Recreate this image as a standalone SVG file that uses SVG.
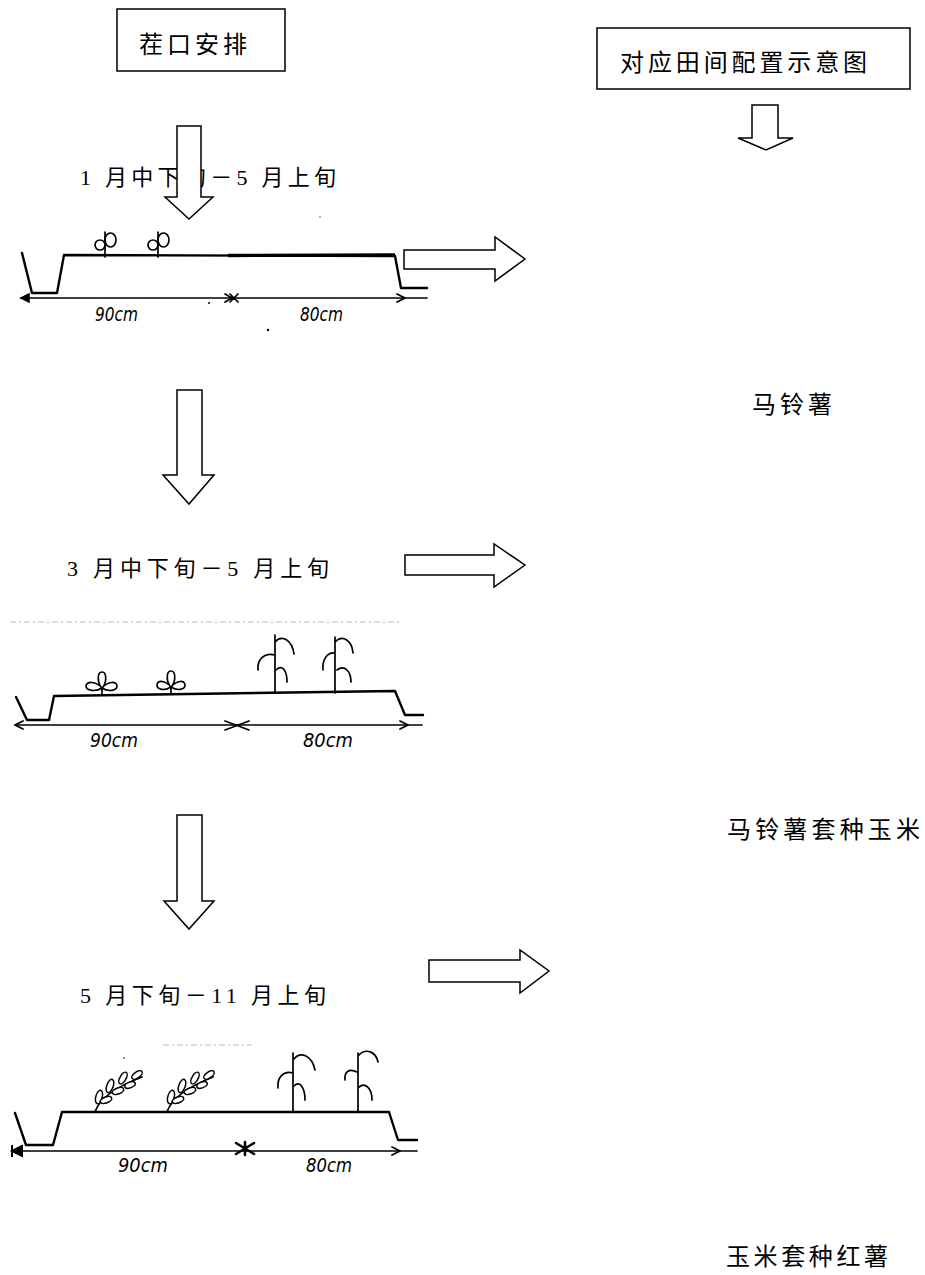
<svg xmlns="http://www.w3.org/2000/svg" width="925" height="1275" viewBox="0 0 925 1275">
<style>
.t{font-family:"Liberation Serif","Noto Sans CJK SC",serif;fill:#000}
.hw{font-family:"DejaVu Sans","Liberation Sans",sans-serif;font-style:italic;font-size:20px;fill:#000}
.box{fill:#fff;stroke:#000;stroke-width:1.5}
.arr{fill:#fff;stroke:#000;stroke-width:1.5;stroke-linejoin:miter}
.ink{fill:none;stroke:#000;stroke-width:2.4;stroke-linecap:round;stroke-linejoin:round}
.thin{fill:none;stroke:#000;stroke-width:1.7;stroke-linecap:round;stroke-linejoin:round}
.leaf{fill:#fff;stroke:#000;stroke-width:1.5}
.faint{fill:none;stroke:#bbb;stroke-width:1.2;stroke-dasharray:6 3 2 3}
</style>
<rect width="925" height="1275" fill="#fff"/>

<g id="box-left">
<rect class="box" x="117" y="9" width="168" height="62"/>
<text class="t" x="139" y="53" font-size="24" textLength="108" lengthAdjust="spacing">茬口安排</text>
</g>
<g id="box-right">
<rect class="box" x="597" y="28" width="313" height="61"/>
<text class="t" x="620" y="71" font-size="24" textLength="247" lengthAdjust="spacing">对应田间配置示意图</text>
</g>

<g id="labels">
<text class="t" x="80" y="185" font-size="22" textLength="256" lengthAdjust="spacing">1 月中下旬－5 月上旬</text>
<text class="t" x="67" y="576" font-size="22" textLength="262" lengthAdjust="spacing">3 月中下旬－5 月上旬</text>
<text class="t" x="80" y="1003" font-size="22" textLength="246" lengthAdjust="spacing">5 月下旬－11 月上旬</text>
<text class="t" x="752" y="413" font-size="24" textLength="80" lengthAdjust="spacing">马铃薯</text>
<text class="t" x="727" y="838" font-size="24" textLength="193" lengthAdjust="spacing">马铃薯套种玉米</text>
<text class="t" x="726" y="1265" font-size="24" textLength="162" lengthAdjust="spacing">玉米套种红薯</text>
</g>

<g id="connectors">
<path class="arr" d="M177 126 H201 V197 H213 L189 219 L165 197 H177 Z"/>
<path class="arr" d="M177 390 H202 V475 H214 L189 504 L163 475 H177 Z"/>
<path class="arr" d="M177 815 H202 V901 H214 L189 929 L164 901 H177 Z"/>
<path class="arr" d="M752 105 H778 V138 H793 L766 150 L738 138 H752 Z"/>
<path class="arr" d="M404 250 H495 V237 L525 259 L495 281 V269 H404 Z"/>
<path class="arr" d="M405 555 H494 V544 L525 565 L494 587 V575 H405 Z"/>
<path class="arr" d="M429 960 H520 V950 L549 971 L520 993 V982 H429 Z"/>
</g>

<g id="sketch-1">
<path class="ink" d="M22 253 L32 293 L57 293 L64 255 L395 256 L401 288 L427 288"/>
<path d="M228 255.5 L395 255" stroke="#000" stroke-width="3.4" fill="none"/>
<path class="thin" d="M21 298 L427 298"/>
<path d="M29 294 L21 298 L29 302 Z" fill="#000" stroke="#000" stroke-width="1.5"/>
<path class="thin" d="M397 294 L405 298 L397 302"/>
<path class="thin" d="M225 294 L232 298 L225 302 M230 294 L238 302 M238 294 L230 302"/>
<text class="hw" x="95" y="321" textLength="43" lengthAdjust="spacingAndGlyphs">90cm</text>
<text class="hw" x="300" y="321" textLength="43" lengthAdjust="spacingAndGlyphs">80cm</text>
<g class="thin">
<path d="M105 257 V232"/>
<ellipse cx="100" cy="245" rx="5" ry="5"/>
<ellipse cx="110.5" cy="240" rx="5.5" ry="7"/>
<path d="M158 257 V232"/>
<ellipse cx="153" cy="245" rx="5" ry="5"/>
<ellipse cx="163.5" cy="240" rx="5.5" ry="7"/>
</g>
<circle cx="209" cy="303" r="1" fill="#000"/>
<circle cx="268" cy="330" r="1.2" fill="#000"/>
<circle cx="320" cy="217" r="0.8" fill="#555"/>
</g>

<g id="sketch-2">
<path class="faint" d="M10 622 L400 622"/>
<path class="ink" d="M16 697 L27 720 L49 720 L54 696 L395 691 L405 715 L423 715"/>
<path class="thin" d="M15 725 L422 725"/>
<path class="thin" d="M23 721 L15 725 L23 729"/>
<path class="thin" d="M400 721 L408 725 L400 729"/>
<path class="thin" d="M225 721 L249 730 M225 730 L249 721"/>
<text class="hw" x="90" y="747" textLength="48" lengthAdjust="spacingAndGlyphs">90cm</text>
<text class="hw" x="303" y="747" textLength="50" lengthAdjust="spacingAndGlyphs">80cm</text>
<path class="thin" d="M102 695 V688 M102 688 C96 692 86 691 86 686 C86 681 96 681 102 688 C108 681 117 681 117 686 C117 691 108 692 102 688 C97 683 97 672 102 672 C107 672 107 683 102 688"/>
<path class="thin" d="M171 694 V687 M171 687 C165 691 157 690 157 685 C157 680 165 680 171 687 C177 680 185 680 185 685 C185 690 177 691 171 687 C166 682 166 671 171 671 C176 671 176 682 171 687"/>
<path class="thin" d="M275 693 V635 M275 642 C282 634 292 640 294 654 M258 670 C257 660 264 652 275 655 M276 670 C282 664 287 670 287 682"/>
<path class="thin" d="M335 693 V637 M335 642 C343 634 352 641 353 653 M323 670 C322 660 327 652 335 653 M337 670 C345 664 351 672 351 682"/>
</g>

<g id="sketch-3">
<path class="faint" d="M163 1045 L252 1045"/>
<circle cx="124" cy="1058" r="0.9" fill="#555"/>
<path class="ink" d="M15 1113 L26 1145 L53 1145 L62 1112 L389 1112 L398 1140 L417 1140"/>
<path class="thin" d="M12 1151 L417 1151"/>
<path d="M22 1146 L12 1151 L22 1156 Z M12 1145 V1157" fill="#000" stroke="#000" stroke-width="2"/>
<path class="thin" d="M392 1147 L400 1151 L392 1155"/>
<path d="M236 1143 L254 1154 M236 1154 L254 1143 M245 1142 V1155" stroke="#000" stroke-width="2.6" fill="none" stroke-linecap="round"/>
<text class="hw" x="118" y="1172" textLength="50" lengthAdjust="spacingAndGlyphs">90cm</text>
<text class="hw" x="306" y="1172" textLength="46" lengthAdjust="spacingAndGlyphs">80cm</text>
<g id="sweetpotato-1">
<path class="thin" d="M95 1112 C99 1100 113 1088 142 1077"/>
<ellipse class="leaf" cx="99" cy="1097" rx="7" ry="3.2" transform="rotate(-75 99 1097)"/>
<ellipse class="leaf" cx="106" cy="1100" rx="6" ry="3" transform="rotate(-20 106 1100)"/>
<ellipse class="leaf" cx="110" cy="1086" rx="7" ry="3.2" transform="rotate(-70 110 1086)"/>
<ellipse class="leaf" cx="118" cy="1091" rx="6" ry="3" transform="rotate(-20 118 1091)"/>
<ellipse class="leaf" cx="123" cy="1078" rx="6.5" ry="3" transform="rotate(-60 123 1078)"/>
<ellipse class="leaf" cx="130" cy="1085" rx="5.5" ry="2.8" transform="rotate(-20 130 1085)"/>
<ellipse class="leaf" cx="137" cy="1075" rx="6" ry="3" transform="rotate(-35 137 1075)"/>
</g>
<g id="sweetpotato-2">
<path class="thin" d="M167 1112 C171 1100 185 1088 213 1077"/>
<ellipse class="leaf" cx="171" cy="1097" rx="7" ry="3.2" transform="rotate(-75 171 1097)"/>
<ellipse class="leaf" cx="178" cy="1100" rx="6" ry="3" transform="rotate(-20 178 1100)"/>
<ellipse class="leaf" cx="182" cy="1086" rx="7" ry="3.2" transform="rotate(-70 182 1086)"/>
<ellipse class="leaf" cx="190" cy="1091" rx="6" ry="3" transform="rotate(-20 190 1091)"/>
<ellipse class="leaf" cx="195" cy="1078" rx="6.5" ry="3" transform="rotate(-60 195 1078)"/>
<ellipse class="leaf" cx="202" cy="1085" rx="5.5" ry="2.8" transform="rotate(-20 202 1085)"/>
<ellipse class="leaf" cx="209" cy="1075" rx="6" ry="3" transform="rotate(-35 209 1075)"/>
</g>
<path class="thin" d="M293 1112 V1053 M293 1060 C301 1050 312 1056 315 1070 M278 1088 C277 1078 283 1070 293 1073 M294 1086 C300 1080 305 1088 305 1100"/>
<path class="thin" d="M358 1112 V1053 M358 1056 C366 1047 376 1052 378 1062 M345 1080 C344 1072 349 1068 357 1072 M359 1087 C365 1082 372 1088 372 1100"/>
</g>
</svg>
